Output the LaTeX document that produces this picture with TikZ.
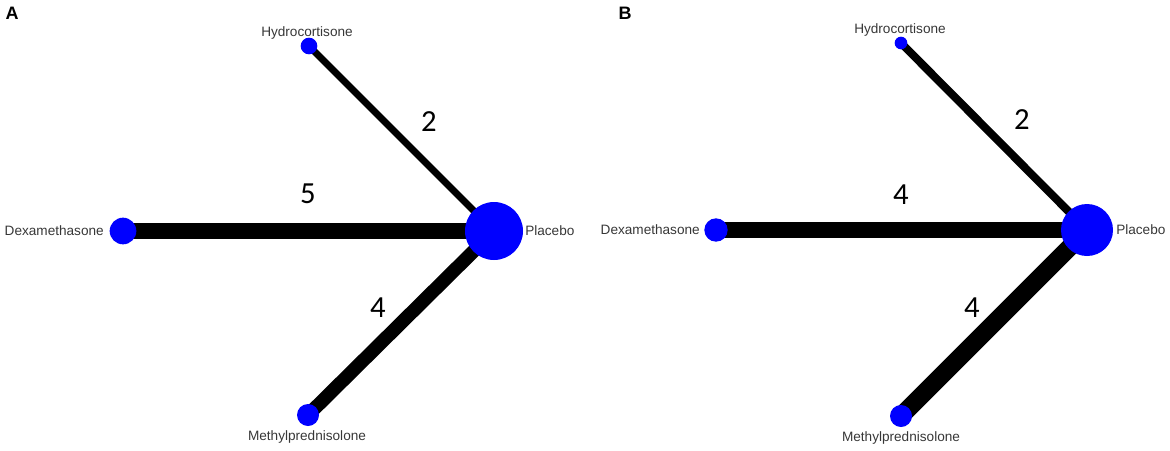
\documentclass[tikz,border=0pt]{standalone}
\usepackage{fontspec}
\setmainfont{Liberation Sans}
\newfontfamily\numfont{Carlito}
\usetikzlibrary{backgrounds}
\definecolor{nodeblue}{RGB}{0,0,255}
\definecolor{labgray}{RGB}{55,55,55}
\tikzset{
  trt/.style={circle, fill=nodeblue, inner sep=0pt, minimum size=#1},
  trtlab/.style={inner sep=0pt, text=labgray, font=\fontsize{10.2pt}{12pt}\selectfont},
  cnt/.style={inner sep=0pt, font=\numfont\fontsize{23pt}{26pt}\selectfont},
  panel/.style={inner sep=0pt, font=\bfseries\fontsize{13.5pt}{15pt}\selectfont},
  edge/.style={draw=black, line width=#1}
}
\begin{document}
\begin{tikzpicture}[x=0.75pt,y=-0.75pt]
\useasboundingbox (0,0) rectangle (1170,450);
% ---------- Panel A ----------
\node[panel] (pA) at (12,13) {A};
\node[trt=12.5pt] (hA) at (309,46) {};
\node[trt=20pt] (dA) at (123,231) {};
\node[trt=43.5pt] (pbA) at (494,231) {};
\node[trt=16.5pt] (mA) at (308,415) {};
\node[trtlab] (lhA) at (307,33) {Hydrocortisone};
\node[trtlab, anchor=east] (ldA) at (104,231) {Dexamethasone};
\node[trtlab, anchor=west] (lpA) at (525,231) {Placebo};
\node[trtlab] (lmA) at (307,437) {Methylprednisolone};
\begin{scope}[on background layer]
\draw[edge=5.2pt] (hA.center) -- (pbA.center);
\draw[edge=11.3pt] (dA.center) -- (pbA.center);
\draw[edge=10.2pt] (mA.center) -- (pbA.center);
\end{scope}
\node[cnt] (nhA) at (429,122) {2};
\node[cnt] (ndA) at (308,194) {5};
\node[cnt] (nmA) at (378,308) {4};
% ---------- Panel B ----------
\node[panel] (pB) at (625,13) {B};
\node[trt=9.5pt] (hB) at (901,43) {};
\node[trt=17.5pt] (dB) at (716,230) {};
\node[trt=39pt] (pbB) at (1087,230) {};
\node[trt=16.5pt] (mB) at (901,416) {};
\node[trtlab] (lhB) at (900,30) {Hydrocortisone};
\node[trtlab, anchor=east] (ldB) at (700,230) {Dexamethasone};
\node[trtlab, anchor=west] (lpB) at (1116,230) {Placebo};
\node[trtlab] (lmB) at (901,438) {Methylprednisolone};
\begin{scope}[on background layer]
\draw[edge=6pt] (hB.center) -- (pbB.center);
\draw[edge=11.3pt] (dB.center) -- (pbB.center);
\draw[edge=13.5pt] (mB.center) -- (pbB.center);
\end{scope}
\node[cnt] (nhB) at (1022,120) {2};
\node[cnt] (ndB) at (901,195) {4};
\node[cnt] (nmB) at (972,308) {4};
\end{tikzpicture}
\end{document}
